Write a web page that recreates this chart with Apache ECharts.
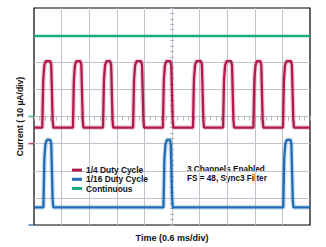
<!DOCTYPE html>
<html><head><meta charset="utf-8">
<script src="https://cdn.jsdelivr.net/npm/echarts@6/dist/echarts.min.js"></script>
<style>html,body{margin:0;padding:0;background:#fff}#c{width:326px;height:247px}</style>
</head><body><div id="c"></div>
<script>
// All values in scope divisions (x: 0.6 ms/div, y: 10 µA/div)
const seriesNames = ['1/4 Duty Cycle', '1/16 Duty Cycle', 'Continuous'];
const noteLines = ['3 Channels Enabled', 'FS = 48, Sync3 Filter'];
// 1/4 duty cycle trace: start of rising edge, end of falling edge
const redRise = [0.30, 1.41, 2.50, 3.59, 4.67, 5.76, 6.85, 7.95, 9.02];
const redFall = [0.70, 1.79, 2.87, 3.99, 5.05, 6.16, 7.25, 8.31, 9.42];
const redLow = 3.59, redHigh = 6.04;
// 1/16 duty cycle trace
const blueRise = [0.34, 4.69, 9.03];
const blueFall = [0.70, 5.03, 9.40];
const blueLow = 0.65, blueHigh = 3.14;
// continuous trace
const greenLevel = 6.97;
// channel ground reference markers (green, red, blue)
const groundLevels = [4, 3, 0];
const xRange = [0, 10];
const yRange = [0, 8];

const FONT = "'Liberation Sans',Arial,sans-serif";
const RED = '#b01a4c', BLUE = '#1e6db5', GREEN = '#17ad78';

function pulseTrain(rises, falls, lo, hi) {
  const d = hi - lo;
  const pts = [[xRange[0], lo]];
  for (let i = 0; i < rises.length; i++) {
    const r = rises[i], f = falls[i];
    pts.push([r, lo], [r + 0.035, lo + 0.72 * d], [r + 0.075, hi - 0.06 * d], [r + 0.13, hi]);
    pts.push([f - 0.11, hi], [f - 0.075, hi - 0.06 * d], [f - 0.025, lo + 0.12 * d], [f, lo]);
  }
  pts.push([xRange[1], lo]);
  return pts;
}
const redData = pulseTrain(redRise, redFall, redLow, redHigh);
const blueData = pulseTrain(blueRise, blueFall, blueLow, blueHigh);
const greenData = [[xRange[0], greenLevel], [xRange[1], greenLevel]];

const gridCol = '#c3c3cf';
const tickCol = '#b0b0bf';
function tickAxis(type, inside) {
  return {
    type: 'value', min: type === 'x' ? xRange[0] : yRange[0], max: type === 'x' ? xRange[1] : yRange[1],
    interval: 0.2, position: type === 'x' ? 'bottom' : 'left', offset: type === 'x' ? -110.5 : -138,
    axisLine: {show: false}, axisLabel: {show: false}, splitLine: {show: false},
    axisTick: {show: true, inside: inside, length: 2, lineStyle: {color: tickCol, width: 1}}
  };
}

const chart = echarts.init(document.getElementById('c'), null, {renderer: 'svg'});
chart.setOption({
  animation: false,
  backgroundColor: '#fff',
  grid: {left: 34, top: 8, width: 276, height: 221, show: true, borderColor: '#000', borderWidth: 1.2, backgroundColor: 'transparent', containLabel: false},
  xAxis: [
    {type: 'value', min: xRange[0], max: xRange[1], interval: 1,
     axisLine: {show: false}, axisTick: {show: false}, axisLabel: {show: false},
     splitLine: {show: true, showMinLine: false, showMaxLine: false, lineStyle: {color: gridCol, width: 1}},
     name: 'Time (0.6 ms/div)', nameLocation: 'middle', nameGap: 8,
     nameTextStyle: {fontFamily: FONT, fontWeight: 'bold', fontSize: 9, color: '#111'}},
    tickAxis('x', true), tickAxis('x', false)
  ],
  yAxis: [
    {type: 'value', min: yRange[0], max: yRange[1], interval: 1,
     axisLine: {show: false}, axisTick: {show: false}, axisLabel: {show: false},
     splitLine: {show: true, showMinLine: false, showMaxLine: false, lineStyle: {color: gridCol, width: 1}},
     name: 'Current ( 10 µA/div)', nameLocation: 'middle', nameGap: 10, nameRotate: 90,
     nameTextStyle: {fontFamily: FONT, fontWeight: 'bold', fontSize: 8.6, color: '#111'}},
    tickAxis('y', true), tickAxis('y', false)
  ],
  legend: {
    data: seriesNames, orient: 'vertical', left: 67, top: 160.5, itemGap: 0,
    itemWidth: 10, itemHeight: 3, icon: 'rect', itemStyle: {borderWidth: 0},
    textStyle: {fontFamily: FONT, fontWeight: 'bold', fontSize: 8.4, color: '#111', lineHeight: 9.2, padding: [0, 0, 0, -1]}
  },
  graphic: [
    {type: 'text', left: 187, top: 165, silent: true,
     style: {text: noteLines[0], fontFamily: FONT, fontWeight: 'bold', fontSize: 8.2, fill: '#111'}},
    {type: 'text', left: 187, top: 174, silent: true,
     style: {text: noteLines[1], fontFamily: FONT, fontWeight: 'bold', fontSize: 8.2, fill: '#111'}}
  ],
  series: [
    {name: 'redHalo', type: 'line', data: redData, symbol: 'none', silent: true, lineStyle: {color: 'rgba(176,26,76,0.2)', width: 5}, z: 2},
    {name: 'blueHalo', type: 'line', data: blueData, symbol: 'none', silent: true, lineStyle: {color: 'rgba(30,109,181,0.2)', width: 5}, z: 2},
    {name: 'greenHalo', type: 'line', data: greenData, symbol: 'none', silent: true, lineStyle: {color: 'rgba(23,173,120,0.3)', width: 3.5}, z: 2},
    {name: seriesNames[0], type: 'line', data: redData, symbol: 'none', color: RED, lineStyle: {color: RED, width: 2.3}, z: 3},
    {name: seriesNames[1], type: 'line', data: blueData, symbol: 'none', color: BLUE, lineStyle: {color: BLUE, width: 2.3}, z: 3},
    {name: seriesNames[2], type: 'line', data: greenData, symbol: 'none', color: GREEN, lineStyle: {color: GREEN, width: 2}, z: 3},
    {name: 'grounds', type: 'scatter', clip: false, silent: true, symbol: 'rect', symbolSize: [5, 1.6], symbolOffset: [-3, 0], z: 4,
     data: [
       {value: [xRange[0], groundLevels[0]], itemStyle: {color: GREEN}},
       {value: [xRange[0], groundLevels[1]], itemStyle: {color: RED}},
       {value: [xRange[0], groundLevels[2]], itemStyle: {color: BLUE}}
     ]}
  ]
});
</script></body></html>
